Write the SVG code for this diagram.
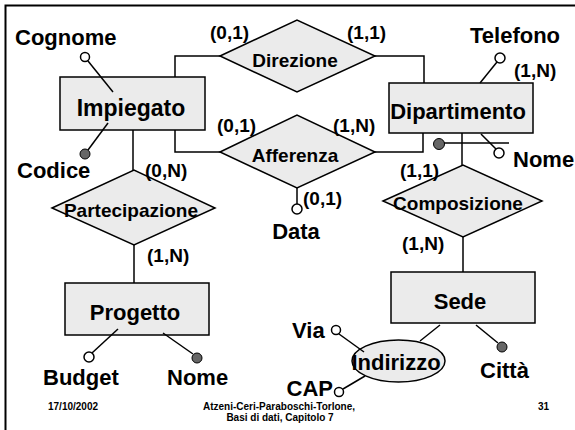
<svg xmlns="http://www.w3.org/2000/svg" width="575" height="430" viewBox="0 0 575 430">
<style>
.t{font-family:"Liberation Sans",Arial,sans-serif;font-weight:bold;fill:#000}
.ent{font-size:22px}
.att{font-size:22px}
.rel{font-size:19px}
.card{font-size:19px}
.foot{font-size:10px}
.box{fill:#ebebeb;stroke:#000;stroke-width:1.5}
.ln{fill:none;stroke:#000;stroke-width:1.5}
.oc{fill:#fff;stroke:#000;stroke-width:1.5}
.fc{fill:#666;stroke:#000;stroke-width:1}
</style>
<rect x="5.5" y="5.5" width="620" height="500" fill="#fff" stroke="#000" stroke-width="2"/>
<g id="connectors" class="ln">
  <polyline points="175,77 175,56 220,56"/>
  <polyline points="375,56 424,56 424,85"/>
  <polyline points="175,130 175,152 220,152"/>
  <polyline points="375,152 423,152 423,122"/>
  <line x1="133" y1="130" x2="133" y2="170"/>
  <line x1="134" y1="245" x2="134" y2="283"/>
  <line x1="462" y1="128" x2="462" y2="165"/>
  <line x1="463" y1="237" x2="463" y2="272"/>
  <line x1="440" y1="325" x2="420" y2="341"/>
</g>
<g id="Direzione">
  <polygon class="box" points="220,56 297,20 375,56 297,92"/>
  <text class="t rel" x="295" y="67" text-anchor="middle">Direzione</text>
</g>
<g id="Afferenza">
  <polygon class="box" points="220,152 297,115 375,152 297,188"/>
  <text class="t rel" x="295" y="162" text-anchor="middle">Afferenza</text>
</g>
<g id="Partecipazione">
  <polygon class="box" points="52,208 134,170 215,208 134,245"/>
  <text class="t rel" x="131" y="217" text-anchor="middle">Partecipazione</text>
</g>
<g id="Composizione">
  <polygon class="box" points="383,201 463,165 542,201 463,237"/>
  <text class="t rel" x="458" y="210" text-anchor="middle">Composizione</text>
</g>
<g id="Impiegato">
  <rect class="box" x="60" y="77" width="145" height="53"/>
  <text class="t ent" x="131" y="116" text-anchor="middle" style="font-size:23px">Impiegato</text>
</g>
<g id="Dipartimento">
  <rect class="box" x="389" y="83" width="144" height="50"/>
  <text class="t ent" x="458" y="119" text-anchor="middle">Dipartimento</text>
</g>
<g id="Progetto">
  <rect class="box" x="65" y="283" width="144" height="52"/>
  <text class="t ent" x="135" y="320" text-anchor="middle">Progetto</text>
</g>
<g id="Sede">
  <rect class="box" x="391" y="272" width="144" height="51"/>
  <text class="t ent" x="460" y="309" text-anchor="middle">Sede</text>
</g>
<g id="Indirizzo">
  <ellipse class="box" cx="398.5" cy="361" rx="46.5" ry="21"/>
  <text class="t att" x="396" y="370" text-anchor="middle">Indirizzo</text>
</g>
<g id="attr-Cognome">
  <line class="ln" x1="88" y1="61" x2="113" y2="92"/>
  <circle class="oc" cx="85" cy="57" r="4.5"/>
  <text class="t att" x="15" y="45">Cognome</text>
</g>
<g id="attr-Codice">
  <line class="ln" x1="88" y1="150" x2="108" y2="123"/>
  <circle class="fc" cx="85" cy="154" r="5"/>
  <text class="t att" x="17" y="178">Codice</text>
</g>
<g id="attr-Telefono">
  <line class="ln" x1="497" y1="62" x2="480" y2="83"/>
  <circle class="oc" cx="500" cy="58" r="5"/>
  <text class="t att" x="470" y="43">Telefono</text>
</g>
<g id="attr-NomeDip">
  <line class="ln" x1="439" y1="143" x2="509" y2="143"/>
  <line class="ln" x1="481" y1="134" x2="496" y2="149"/>
  <circle class="oc" cx="499" cy="153" r="5"/>
  <circle class="fc" cx="439" cy="144" r="5.5"/>
  <text class="t att" x="513" y="167">Nome</text>
</g>
<g id="attr-Data">
  <line class="ln" x1="297" y1="188" x2="297" y2="204"/>
  <circle class="oc" cx="297" cy="209" r="5"/>
  <text class="t att" x="296" y="239" text-anchor="middle">Data</text>
</g>
<g id="attr-Budget">
  <line class="ln" x1="92" y1="353" x2="118" y2="329"/>
  <circle class="oc" cx="89" cy="357" r="5"/>
  <text class="t att" x="43" y="385">Budget</text>
</g>
<g id="attr-NomeProg">
  <line class="ln" x1="163" y1="333" x2="193" y2="354"/>
  <circle class="fc" cx="197" cy="358" r="5"/>
  <text class="t att" x="167" y="385">Nome</text>
</g>
<g id="attr-Citta">
  <line class="ln" x1="476" y1="325" x2="498" y2="343"/>
  <circle class="fc" cx="502" cy="347" r="5"/>
  <text class="t att" x="480" y="378">Città</text>
</g>
<g id="attr-Via">
  <line class="ln" x1="339" y1="334" x2="364" y2="352"/>
  <circle class="oc" cx="336" cy="330" r="4.5"/>
  <text class="t att" x="292" y="338">Via</text>
</g>
<g id="attr-CAP">
  <line class="ln" x1="343" y1="389" x2="365" y2="376"/>
  <circle class="oc" cx="339" cy="392" r="4.5"/>
  <text class="t att" x="333" y="396" text-anchor="end">CAP</text>
</g>
<g id="cardinalities">
  <text class="t card" x="210" y="39">(0,1)</text>
  <text class="t card" x="347" y="39">(1,1)</text>
  <text class="t card" x="514" y="77">(1,N)</text>
  <text class="t card" x="217" y="132">(0,1)</text>
  <text class="t card" x="333" y="132">(1,N)</text>
  <text class="t card" x="145" y="177">(0,N)</text>
  <text class="t card" x="400" y="177">(1,1)</text>
  <text class="t card" x="303" y="205">(0,1)</text>
  <text class="t card" x="147" y="262">(1,N)</text>
  <text class="t card" x="402" y="250">(1,N)</text>
</g>
<g id="footer">
  <text class="t foot" x="48" y="410">17/10/2002</text>
  <text class="t foot" x="279" y="410" text-anchor="middle">Atzeni-Ceri-Paraboschi-Torlone,</text>
  <text class="t foot" x="280" y="421" text-anchor="middle">Basi di dati, Capitolo 7</text>
  <text class="t foot" x="538" y="410">31</text>
</g>
</svg>
